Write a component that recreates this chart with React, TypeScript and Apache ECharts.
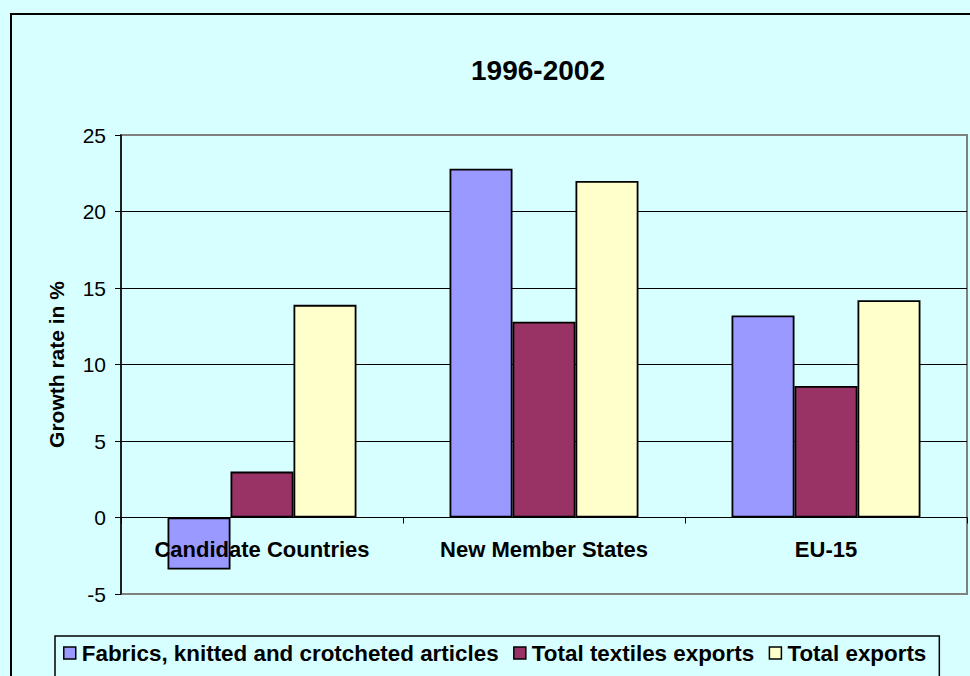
import React, { useEffect, useRef } from "react";
import * as echarts from "echarts";

const categories = ["Candidate Countries", "New Member States", "EU-15"];
const seriesNames = [
  "Fabrics, knitted and crotcheted articles",
  "Total textiles exports",
  "Total exports",
];
const fabrics = [-3.4, 22.8, 13.2];
const textiles = [3.0, 12.8, 8.6];
const totalExports = [13.9, 22.0, 14.2];
const colors = ["#9999FF", "#993366", "#FFFFCC"];
const title = "1996-2002";
const yAxisName = "Growth rate in %";

const FONT = 'Arial, "Liberation Sans", sans-serif';
const BG = "#D7FFFF";

export default function App() {
  const ref = useRef<HTMLDivElement>(null);
  useEffect(() => {
    document.body.style.margin = "0";
    const chart = echarts.init(ref.current!, null, { renderer: "svg" });
    const data = [fabrics, textiles, totalExports];
    chart.setOption({
      animation: false,
      backgroundColor: BG,
      textStyle: { fontFamily: FONT },
      title: {
        text: title,
        left: 533,
        top: 51,
        textAlign: "center",
        textStyle: { fontSize: 28, fontWeight: "bold", color: "#000", fontFamily: FONT },
      },
      graphic: [
        {
          type: "rect",
          shape: { x: 11, y: 14, width: 1000, height: 700 },
          style: { fill: "none", stroke: "#000", lineWidth: 2 },
          z: 100,
        },
      ],
      legend: {
        left: 55,
        top: 636,
        data: seriesNames,
        icon: "rect",
        itemWidth: 12,
        itemHeight: 12,
        itemGap: 14.5,
        padding: [6, 13, 20, 8],
        borderColor: "#000",
        borderWidth: 1.5,
        itemStyle: { borderColor: "#000", borderWidth: 1.5 },
        textStyle: { fontSize: 22.4, fontWeight: "bold", color: "#000", fontFamily: FONT, padding: [0, 0, 0, 1] },
      },
      grid: {
        left: 121,
        right: 3,
        top: 135,
        bottom: 82,
        show: true,
        borderColor: "#808080",
        borderWidth: 2,
        backgroundColor: "transparent",
      },
      xAxis: {
        type: "category",
        data: categories,
        z: 5,
        axisLine: { onZero: true, lineStyle: { color: "#000", width: 1 } },
        axisTick: { show: true, length: 6, inside: false, lineStyle: { color: "#000" } },
        axisLabel: { fontSize: 22, fontWeight: "bold", color: "#000", margin: -56, fontFamily: FONT },
      },
      yAxis: {
        type: "value",
        min: -5,
        max: 25,
        interval: 5,
        name: yAxisName,
        nameLocation: "middle",
        nameRotate: 90,
        nameGap: 54,
        nameTextStyle: { fontSize: 21, fontWeight: "bold", color: "#000", fontFamily: FONT },
        axisLine: { show: true, lineStyle: { color: "#000", width: 1.5 } },
        axisTick: { show: true, length: 6, lineStyle: { color: "#000" } },
        axisLabel: { fontSize: 21, color: "#000", margin: 15, fontFamily: FONT },
        splitLine: {
          show: true,
          lineStyle: {
            color: ["#808080", "#000", "#000", "#000", "#000", "#000", "#808080"],
            width: 1,
          },
        },
      },
      series: seriesNames.map((name, i) => ({
        name,
        type: "bar",
        data: data[i],
        barGap: "0%",
        barCategoryGap: "33%",
        itemStyle: { color: colors[i], borderColor: "#000", borderWidth: 1.8 },
      })),
    });
    return () => chart.dispose();
  }, []);
  return (
    <div
      ref={ref}
      style={{ position: "absolute", left: 0, top: 0, width: 970, height: 676 }}
    />
  );
}
